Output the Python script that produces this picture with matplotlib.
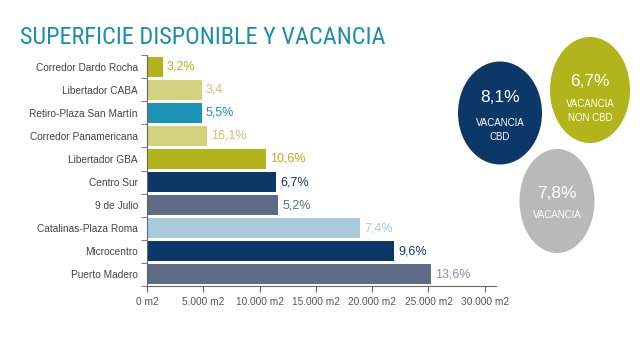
import matplotlib
matplotlib.use("Agg")
import matplotlib.pyplot as plt
from matplotlib.patches import Ellipse
from matplotlib import font_manager
import numpy as np

# datos
zonas = ["Corredor Dardo Rocha", "Libertador CABA", "Retiro-Plaza San Martín",
         "Corredor Panamericana", "Libertador GBA", "Centro Sur", "9 de Julio",
         "Catalinas-Plaza Roma", "Microcentro", "Puerto Madero"]
superficie = [1400, 4850, 4850, 5300, 10550, 11500, 11650, 18900, 21950, 25250]
vacancia = ["3,2%", "3,4", "5,5%", "16,1%", "10,6%", "6,7%", "5,2%", "7,4%", "9,6%", "13,6%"]
ticks_x = [0, 5000, 10000, 15000, 20000, 25000, 30000]
ticks_lbl = ["0 m2", "5.000 m2", "10.000 m2", "15.000 m2", "20.000 m2", "25.000 m2", "30.000 m2"]

burbuja_valor = ["8,1%", "6,7%", "7,8%"]
burbuja_texto = ["VACANCIA\nCBD", "VACANCIA\nNON CBD", "VACANCIA"]

OLIVA = "#b1b41a"
OLIVA_CL = "#d3d27f"
TEAL = "#1a93b6"
NAVY = "#0c3868"
PIZARRA = "#5d6b86"
CELESTE = "#a8cadb"
colores = [OLIVA, OLIVA_CL, TEAL, OLIVA_CL, OLIVA, NAVY, PIZARRA, CELESTE, NAVY, PIZARRA]
colores_txt = [OLIVA, "#c8c66a", TEAL, "#c8c66a", OLIVA, NAVY, PIZARRA, CELESTE, NAVY, "#8592a5"]

nombres = {f.name for f in font_manager.fontManager.ttflist}
fuente = "Liberation Sans" if "Liberation Sans" in nombres else "DejaVu Sans"
angosta = fuente
for cand in ["Liberation Sans Narrow", "Arial Narrow", "Roboto Condensed", "Open Sans Condensed"]:
    if cand in nombres:
        angosta = cand
        break
plt.rcParams["font.family"] = [fuente, "DejaVu Sans"]

fig = plt.figure(figsize=(6.4, 3.38), dpi=100)
ax = fig.add_axes([147 / 640, 1 - 286 / 338, 349 / 640, 231 / 338])

y = np.arange(len(zonas))
ax.barh(y, superficie, height=0.85, color=colores)
for yi, s, v, c in zip(y, superficie, vacancia, colores_txt):
    ax.annotate(v, (s, yi), xytext=(3, 0), textcoords="offset points",
                va="center", ha="left", fontsize=9, color=c)

ax.set_ylim(len(zonas) - 0.48, -0.52)
ax.set_xlim(0, 31000)
ax.set_yticks(y)
ax.set_yticklabels(zonas, fontsize=7.3, color="#444444")
ax.set_yticks(np.arange(len(zonas) + 1) - 0.5, minor=True)
ax.tick_params(axis="y", which="major", length=0, pad=6.5)
ax.tick_params(axis="y", which="minor", length=4, color="#666666", direction="out")
ax.set_xticks(ticks_x)
ax.set_xticklabels(ticks_lbl, fontsize=7.3, color="#555555")
ax.tick_params(axis="x", length=4, color="#666666", pad=4)
for lado in ["top", "right"]:
    ax.spines[lado].set_visible(False)
for lado in ["left", "bottom"]:
    ax.spines[lado].set_color("#666666")
    ax.spines[lado].set_linewidth(0.8)

titulo = fig.text(20 / 640, 1 - 37 / 338, "SUPERFICIE DISPONIBLE Y VACANCIA", fontsize=17.5,
                  color="#1a8fa9", family=[angosta, "DejaVu Sans"], va="center", ha="left")
# ajustar el ancho del titulo al de la imagen original (~373 px)
ancho = titulo.get_window_extent(renderer=fig.canvas.get_renderer()).width
if ancho > 380 or ancho < 355:
    titulo.set_fontsize(17.5 * 373 / ancho)

# burbujas en coordenadas de pixel
ov = fig.add_axes([0, 0, 1, 1])
ov.set_xlim(0, 640)
ov.set_ylim(338, 0)
ov.axis("off")
burbuja_centro = [(500, 113), (590, 90), (557, 201)]
burbuja_tam = [(84, 103), (80, 106), (75, 104)]
burbuja_color = [NAVY, OLIVA, "#b9b9b9"]
desp_valor = [-15, -8, -8]
desp_texto = [17, 21, 14]
for (cx, cy), (w, h), col, val, txt, dv, dt in zip(burbuja_centro, burbuja_tam, burbuja_color,
                                                  burbuja_valor, burbuja_texto,
                                                  desp_valor, desp_texto):
    ov.add_patch(Ellipse((cx, cy), w, h, color=col, lw=0))
    ov.text(cx, cy + dv, val, ha="center", va="center", color="white", fontsize=12.5)
    ov.text(cx, cy + dt, txt, ha="center", va="center",
            color="white", fontsize=7, linespacing=1.45)

fig.savefig("out.png", dpi=100)
